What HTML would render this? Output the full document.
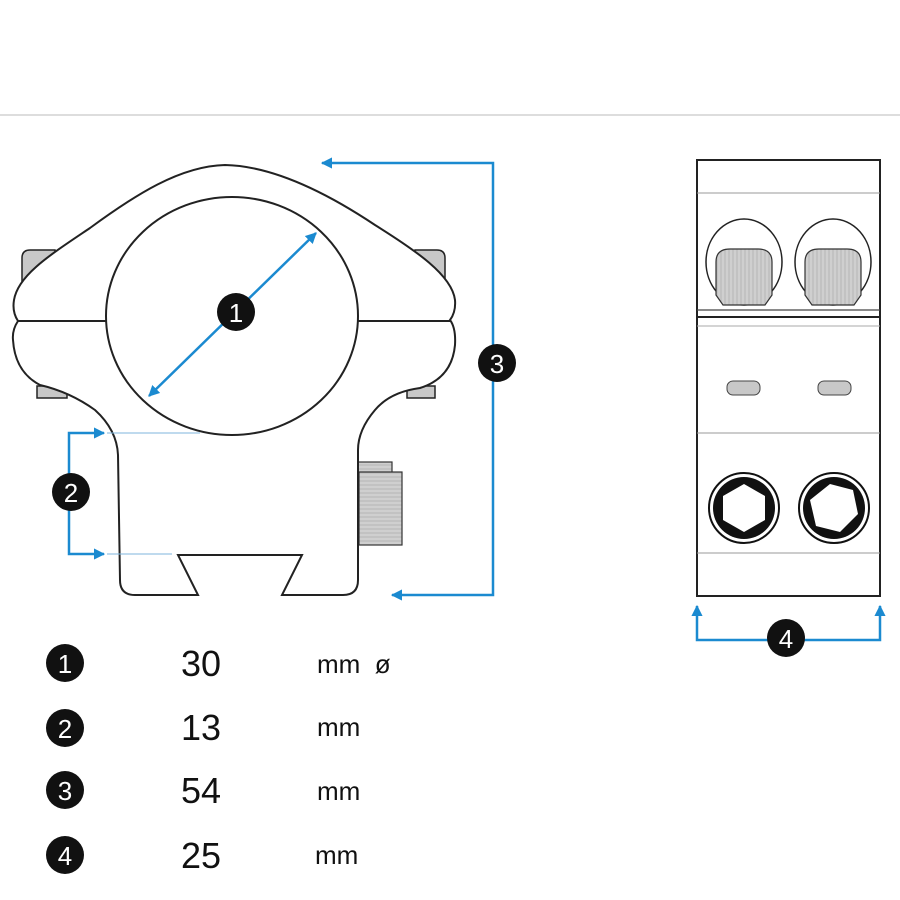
<!DOCTYPE html>
<html><head><meta charset="utf-8"><style>
html,body{margin:0;padding:0;background:#fff}
svg{display:block}
text{font-family:"Liberation Sans",sans-serif}
</style></head><body>
<svg width="900" height="900" viewBox="0 0 900 900" xmlns="http://www.w3.org/2000/svg">
<defs>
<marker id="ah" viewBox="0 0 10 10" refX="9" refY="5" markerWidth="4.5" markerHeight="4.5" orient="auto-start-reverse"><path d="M0,0 L10,5 L0,10 z" fill="#1b8ad0"/></marker>
<pattern id="knurl" width="4" height="10" patternUnits="userSpaceOnUse"><rect width="4" height="10" fill="#cfcfcf"/><line x1="1" y1="0" x2="1" y2="10" stroke="#b5b5b5" stroke-width="1"/></pattern>
<pattern id="knurlh" width="10" height="4" patternUnits="userSpaceOnUse"><rect width="10" height="4" fill="#cfcfcf"/><line x1="0" y1="1" x2="10" y2="1" stroke="#b5b5b5" stroke-width="1"/></pattern>
</defs>
<line x1="0" y1="115" x2="900" y2="115" stroke="#bbb" stroke-width="1"/>

<path d="M22,258 Q22,250 30,250 L55,250 L55,285 L22,285 Z" fill="#c8c8c8" stroke="#222" stroke-width="1.5"/>
<path d="M445,258 Q445,250 437,250 L415,250 L415,285 L445,285 Z" fill="#c8c8c8" stroke="#222" stroke-width="1.5"/>
<rect x="37" y="386" width="30" height="12" fill="#c8c8c8" stroke="#222" stroke-width="1.5"/>
<rect x="407" y="386" width="28" height="12" fill="#c8c8c8" stroke="#222" stroke-width="1.5"/>
<rect x="357" y="462" width="35" height="12" fill="url(#knurlh)" stroke="#333" stroke-width="1.2"/>
<rect x="359" y="472" width="43" height="73" fill="url(#knurlh)" stroke="#333" stroke-width="1.2"/>

<path d="M14,300 C18,275 50,255 90,228 C135,195 180,166 225,165 C275,166 330,195 375,225 C415,250 452,275 455,300 Q456,312 450,320 Q456,328 455,345 Q452,378 420,388 Q390,392 375,410 Q358,430 358,450 L358,580 Q358,595 343,595 L282,595 L302,555 L178,555 L198,595 L135,595 Q120,595 120,580 L118,455 Q117,430 95,410 Q70,392 40,385 Q15,372 13,340 Q12,330 18,321 Q12,312 14,300 Z" fill="#fff" stroke="#222" stroke-width="2"/>
<line x1="18" y1="321" x2="108" y2="321" stroke="#222" stroke-width="2"/>
<line x1="358" y1="321" x2="450" y2="321" stroke="#222" stroke-width="2"/>
<ellipse cx="232" cy="316" rx="126" ry="119" fill="#fff" stroke="#222" stroke-width="2"/>

<line x1="149" y1="396" x2="316" y2="233" stroke="#1b8ad0" stroke-width="2.5" marker-start="url(#ah)" marker-end="url(#ah)"/>
<line x1="107" y1="433" x2="200" y2="433" stroke="#7fb6dd" stroke-width="1"/>
<line x1="107" y1="554" x2="172" y2="554" stroke="#7fb6dd" stroke-width="1"/>
<path d="M104,433 L69,433 L69,554 L104,554" fill="none" stroke="#1b8ad0" stroke-width="2.5" marker-start="url(#ah)" marker-end="url(#ah)"/>
<path d="M322,163 L493,163 L493,595 L392,595" fill="none" stroke="#1b8ad0" stroke-width="2.5" marker-start="url(#ah)" marker-end="url(#ah)"/>

<rect x="697" y="160" width="183" height="436" fill="#fff" stroke="#222" stroke-width="2"/>
<line x1="697" y1="193" x2="880" y2="193" stroke="#999" stroke-width="1"/>
<line x1="697" y1="310" x2="880" y2="310" stroke="#444" stroke-width="1.2"/>
<line x1="697" y1="317" x2="880" y2="317" stroke="#222" stroke-width="2"/>
<line x1="697" y1="326" x2="880" y2="326" stroke="#aaa" stroke-width="1"/>
<line x1="697" y1="433" x2="880" y2="433" stroke="#999" stroke-width="1"/>
<line x1="697" y1="553" x2="880" y2="553" stroke="#999" stroke-width="1"/>
<ellipse cx="744" cy="262" rx="38" ry="43" fill="#fff" stroke="#222" stroke-width="1.5"/>
<ellipse cx="833" cy="262" rx="38" ry="43" fill="#fff" stroke="#222" stroke-width="1.5"/>
<path d="M716,262 Q716,249 730,249 L758,249 Q772,249 772,262 L772,295 L765,305 L723,305 L716,295 Z" fill="url(#knurl)" stroke="#333" stroke-width="1.2"/>
<path d="M805,262 Q805,249 819,249 L847,249 Q861,249 861,262 L861,295 L854,305 L812,305 L805,295 Z" fill="url(#knurl)" stroke="#333" stroke-width="1.2"/>
<rect x="727" y="381" width="33" height="14" rx="6" fill="#c8c8c8" stroke="#444" stroke-width="1"/>
<rect x="818" y="381" width="33" height="14" rx="6" fill="#c8c8c8" stroke="#444" stroke-width="1"/>
<circle cx="744" cy="508" r="35" fill="#fff" stroke="#111" stroke-width="2"/>
<circle cx="744" cy="508" r="31" fill="#111"/>
<polygon points="744,484 765,496 765,520 744,532 723,520 723,496" fill="#fff"/>
<circle cx="834" cy="508" r="35" fill="#fff" stroke="#111" stroke-width="2"/>
<circle cx="834" cy="508" r="31" fill="#111"/>
<polygon points="830,484 853,490 858,514 840,532 816,526 810,500" fill="#fff"/>
<path d="M697,606 L697,640 L880,640 L880,606" fill="none" stroke="#1b8ad0" stroke-width="2.5" marker-start="url(#ah)" marker-end="url(#ah)"/>

<g font-size="26" fill="#fff" text-anchor="middle">
<circle cx="236" cy="312" r="19" fill="#111"/><text x="236" y="322">1</text>
<circle cx="71" cy="492" r="19" fill="#111"/><text x="71" y="502">2</text>
<circle cx="497" cy="363" r="19" fill="#111"/><text x="497" y="373">3</text>
<circle cx="786" cy="638" r="19" fill="#111"/><text x="786" y="648">4</text>
<circle cx="65" cy="663" r="19" fill="#111"/><text x="65" y="673">1</text>
<circle cx="65" cy="728" r="19" fill="#111"/><text x="65" y="738">2</text>
<circle cx="65" cy="790" r="19" fill="#111"/><text x="65" y="800">3</text>
<circle cx="65" cy="855" r="19" fill="#111"/><text x="65" y="865">4</text>
</g>
<g fill="#111">
<text x="181" y="676" font-size="36">30</text>
<text x="181" y="740" font-size="36">13</text>
<text x="181" y="803" font-size="36">54</text>
<text x="181" y="868" font-size="36">25</text>
<text x="317" y="673" font-size="26">mm&#160;&#160;ø</text>
<text x="317" y="736" font-size="26">mm</text>
<text x="317" y="800" font-size="26">mm</text>
<text x="315" y="864" font-size="26">mm</text>
</g>
</svg>
</body></html>
